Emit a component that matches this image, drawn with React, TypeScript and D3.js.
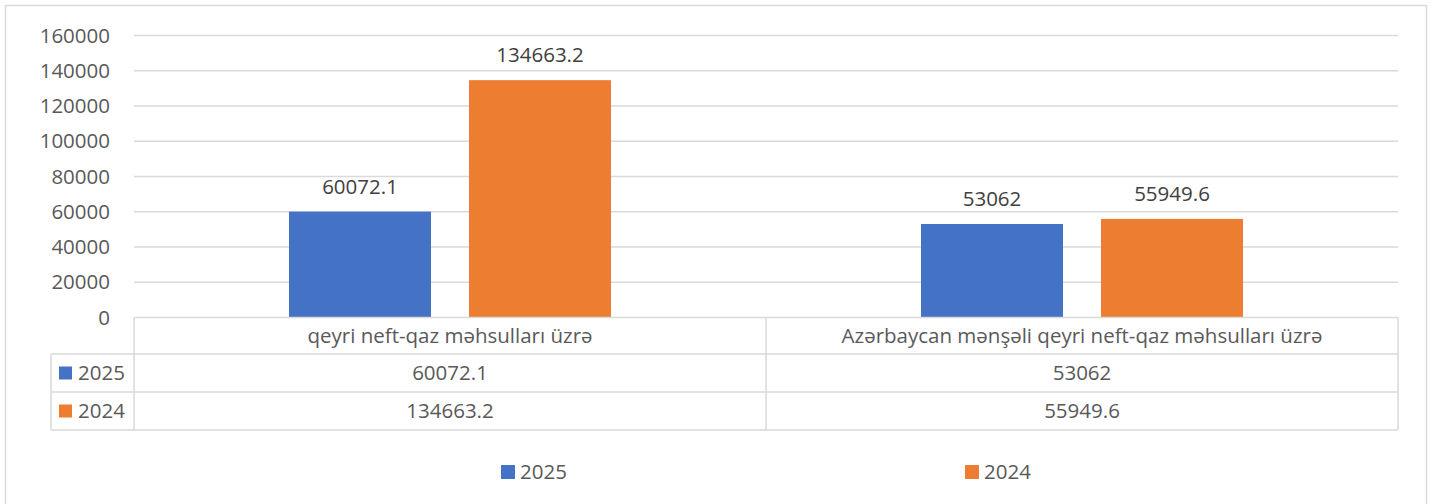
import React from "react";
import * as d3 from "d3";

const categories = ["qeyri neft-qaz məhsulları üzrə", "Azərbaycan mənşəli qeyri neft-qaz məhsulları üzrə"];
const seriesNames = ["2025", "2024"];
const values2025 = [60072.1, 53062];
const values2024 = [134663.2, 55949.6];
const labels2025 = ["60072.1", "53062"];
const labels2024 = ["134663.2", "55949.6"];
const yTicks = [0, 20000, 40000, 60000, 80000, 100000, 120000, 140000, 160000];
const colors = ["#4472C4", "#ED7D31"];

const W = 1436;
const H = 504;
const left = 134;
const right = 1398;
const top = 35.5;
const bottom = 317.5;
const row1 = 354;
const row2 = 392;
const row3 = 430;
const tableLeft = 51;
const font = "'Open Sans', 'Noto Sans', sans-serif";
const textColor = "#595959";
const gridColor = "#d9d9d9";
const fs = 20.5;

export default function App() {
  const x0 = d3.scaleBand<string>().domain(categories).range([left, right]).padding(0);
  const x1 = d3
    .scaleBand<string>()
    .domain(seriesNames)
    .range([0, x0.bandwidth()])
    .paddingInner(38 / 180)
    .paddingOuter(155 / 180);
  const y = d3.scaleLinear().domain([0, 160000]).range([bottom, top]);

  const series = [
    { name: seriesNames[0], values: values2025, labels: labels2025, color: colors[0] },
    { name: seriesNames[1], values: values2024, labels: labels2024, color: colors[1] },
  ];

  const rowYs = [row1, row2, row3];

  return (
    <svg
      width={W}
      height={H}
      style={{ position: "absolute", left: 0, top: 0, background: "#fff" }}
      fontFamily={font}
    >
      <rect x={5.5} y={5.5} width={1421} height={510} fill="#fff" stroke={gridColor} strokeWidth={1.5} />
      {yTicks.map((t) => (
        <g key={t}>
          {t !== 0 && (
            <line x1={left} x2={right} y1={y(t)} y2={y(t)} stroke={gridColor} strokeWidth={1.5} />
          )}
          <text x={110} y={y(t)} dy="0.35em" textAnchor="end" fontSize={fs} fill={textColor}>
            {t}
          </text>
        </g>
      ))}
      {series.map((s) =>
        categories.map((c, i) => {
          const bx = (x0(c) as number) + (x1(s.name) as number);
          const bw = x1.bandwidth();
          return (
            <g key={s.name + c}>
              <rect x={bx} y={y(s.values[i])} width={bw} height={y(0) - y(s.values[i])} fill={s.color} />
              <text
                x={bx + bw / 2}
                y={y(s.values[i]) - 25}
                dy="0.35em"
                textAnchor="middle"
                fontSize={fs}
                fill="#404040"
              >
                {s.labels[i]}
              </text>
            </g>
          );
        })
      )}
      {/* data table */}
      <line x1={left} x2={right} y1={bottom} y2={bottom} stroke={gridColor} strokeWidth={1.5} />
      {rowYs.map((ry) => (
        <line key={ry} x1={tableLeft} x2={right} y1={ry} y2={ry} stroke={gridColor} strokeWidth={1.5} />
      ))}
      {[left, x0(categories[1]) as number, right].map((vx) => (
        <line key={vx} x1={vx} x2={vx} y1={bottom} y2={row3} stroke={gridColor} strokeWidth={1.5} />
      ))}
      <line x1={tableLeft} x2={tableLeft} y1={row1} y2={row3} stroke={gridColor} strokeWidth={1.5} />
      {categories.map((c) => (
        <text
          key={c}
          x={(x0(c) as number) + x0.bandwidth() / 2}
          y={(bottom + row1) / 2}
          dy="0.35em"
          textAnchor="middle"
          fontSize={fs}
          fill={textColor}
        >
          {c}
        </text>
      ))}
      {series.map((s, si) => {
        const ry0 = rowYs[si];
        const ry1 = rowYs[si + 1];
        const cy = (ry0 + ry1) / 2;
        return (
          <g key={s.name}>
            <rect x={59} y={cy - 6.5} width={13} height={13} fill={s.color} />
            <text x={78} y={cy} dy="0.35em" fontSize={fs} fill={textColor}>
              {s.name}
            </text>
            {categories.map((c, i) => (
              <text
                key={c}
                x={(x0(c) as number) + x0.bandwidth() / 2}
                y={cy}
                dy="0.35em"
                textAnchor="middle"
                fontSize={fs}
                fill={textColor}
              >
                {s.labels[i]}
              </text>
            ))}
          </g>
        );
      })}
      {/* bottom legend */}
      {series.map((s, si) => {
        const lx = si === 0 ? 501 : 965;
        return (
          <g key={"lg" + s.name}>
            <rect x={lx} y={465} width={14} height={14} fill={s.color} />
            <text x={lx + 19} y={472} dy="0.35em" fontSize={fs} fill={textColor}>
              {s.name}
            </text>
          </g>
        );
      })}
    </svg>
  );
}
